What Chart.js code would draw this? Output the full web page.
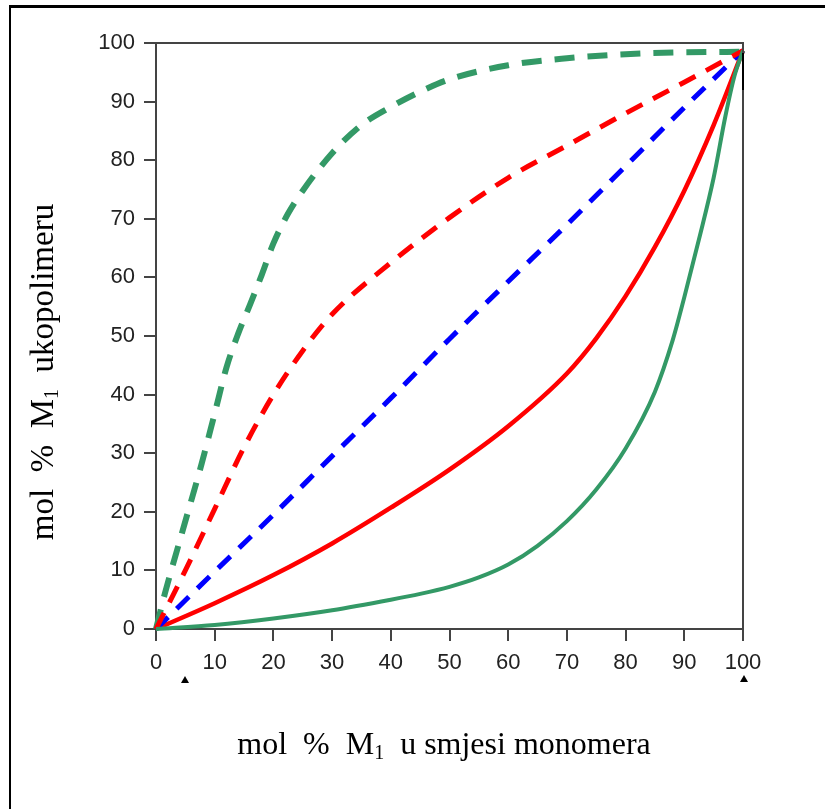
<!DOCTYPE html>
<html>
<head>
<meta charset="utf-8">
<script src="https://cdn.jsdelivr.net/npm/chart.js@4.4.1/dist/chart.umd.min.js"></script>
<style>
html, body { margin: 0; padding: 0; background: #fff; }
#wrap { position: relative; width: 825px; height: 809px; }
</style>
</head>
<body>
<div id="wrap"><canvas id="chart" width="825" height="809" style="width:825px;height:809px"></canvas></div>
<script>
// values (mol % M1 in feed -> mol % M1 in copolymer)
const axisTicks = [0, 10, 20, 30, 40, 50, 60, 70, 80, 90, 100];

const greenDashX = [0, 1.5, 4.6, 7.8, 10, 12, 14, 16, 18, 20, 22.5, 25, 30, 35, 40, 45, 50, 60, 70, 80, 90, 100];
const greenDashY = [0, 6, 17, 28.3, 36.8, 44.6, 50.4, 55.3, 60.4, 65.8, 70.9, 74.8, 81.2, 86, 89.1, 91.7, 93.8, 96.2, 97.4, 98.1, 98.4, 98.5];

const redDashX = [0, 5, 10, 15, 20, 25, 30, 40, 50, 60, 70, 80, 90, 100];
const redDashY = [0, 10, 20.5, 31, 40, 47.5, 53.7, 62.5, 70.2, 77, 82.5, 88, 93.3, 98.7];

const blueDashX = [0, 10, 20, 30, 40, 50, 60, 70, 80, 90, 100];
const blueDashY = [0, 9.8, 19.5, 29.5, 39.4, 49.5, 59.3, 69, 79, 89, 98.7];

const redSolidX = [0, 10, 20, 30, 40, 50, 60, 70, 75, 80, 85, 90, 95, 100];
const redSolidY = [0, 4.4, 9.2, 14.6, 20.7, 27.2, 34.6, 43.6, 49.6, 56.8, 65.2, 74.8, 86, 98.7];

const greenSolidX = [0, 10, 20, 30, 40, 45, 50, 55, 60, 65, 70, 75, 80, 85, 88, 90, 92.5, 95, 97, 98.5, 100];
const greenSolidY = [0, 0.7, 1.8, 3.2, 5.0, 6.0, 7.2, 8.8, 11.0, 14.2, 18.4, 23.8, 30.8, 40.5, 49.2, 56.6, 66.5, 77, 87.5, 94.2, 98.7];

const GREEN = '#339966';
const RED = '#ff0000';
const BLUE = '#0000ff';
const AXIS = '#444444';

function pts(xs, ys) {
    return xs.map((x, i) => ({ x: x, y: ys[i] }));
}

function line(data, color, width, dash, order) {
    return {
        data: data,
        borderColor: color,
        backgroundColor: color,
        borderWidth: width,
        borderDash: dash,
        borderCapStyle: 'butt',
        pointRadius: 0,
        cubicInterpolationMode: 'monotone',
        fill: false,
        clip: 6,
        order: order
    };
}

// draw text with a subscript part
function drawParts(ctx, parts, x, y, size) {
    const subSize = Math.round(size * 0.62);
    let total = 0;
    parts.forEach(p => {
        ctx.font = (p.sub ? subSize : size) + 'px "Liberation Serif", "Times New Roman", serif';
        p.w = ctx.measureText(p.t).width;
        total += p.w;
    });
    let cx = x - total / 2;
    parts.forEach(p => {
        ctx.font = (p.sub ? subSize : size) + 'px "Liberation Serif", "Times New Roman", serif';
        ctx.fillText(p.t, cx, p.sub ? y + size * 0.16 : y);
        cx += p.w;
    });
}

const framePlugin = {
    id: 'frame',
    beforeDraw(chart) {
        const ctx = chart.ctx;
        ctx.save();
        ctx.fillStyle = '#fff';
        ctx.fillRect(0, 0, chart.width, chart.height);
        // outer page frame (left + top only)
        ctx.fillStyle = '#000';
        ctx.fillRect(9, 5, chart.width - 9, 3);
        ctx.fillRect(9, 5, 2, chart.height - 5);
        ctx.restore();
    },
    afterDatasetsDraw(chart) {
        const ctx = chart.ctx;
        const a = chart.chartArea;
        ctx.save();
        ctx.strokeStyle = AXIS;
        ctx.lineWidth = 2;
        ctx.beginPath();
        ctx.moveTo(a.left, a.top);
        ctx.lineTo(a.right, a.top);
        ctx.lineTo(a.right, a.bottom);
        ctx.stroke();
        // darker stub on the right edge near the top
        ctx.fillStyle = '#000';
        ctx.fillRect(a.right - 1, a.top + 10, 2, 37);
        // small marker triangles below the axis
        [[185, 676], [744, 675]].forEach(t => {
            ctx.beginPath();
            ctx.moveTo(t[0], t[1]);
            ctx.lineTo(t[0] - 4, t[1] + 7);
            ctx.lineTo(t[0] + 4, t[1] + 7);
            ctx.closePath();
            ctx.fill();
        });
        ctx.restore();
    },
    afterDraw(chart) {
        const ctx = chart.ctx;
        ctx.save();
        ctx.fillStyle = '#000';
        ctx.textBaseline = 'alphabetic';
        ctx.textAlign = 'left';
        drawParts(ctx, [
            { t: 'mol  %  M' }, { t: '1', sub: true }, { t: '  u smjesi monomera' }
        ], 444, 754, 32);
        ctx.translate(53, 372);
        ctx.rotate(-Math.PI / 2);
        drawParts(ctx, [
            { t: 'mol  %  M' }, { t: '1', sub: true }, { t: '  ukopolimeru' }
        ], 0, 0, 33);
        ctx.restore();
    }
};

const tickFont = { family: '"Liberation Sans", Arial, sans-serif', size: 22 };

const ctx = document.getElementById('chart').getContext('2d');
new Chart(ctx, {
    type: 'line',
    data: {
        datasets: [
            line(pts(greenDashX, greenDashY), GREEN, 6, [20, 13], 5),
            line(pts(redDashX, redDashY), RED, 5, [18, 12], 2),
            line(pts(blueDashX, blueDashY), BLUE, 5, [17, 12], 3),
            line(pts(redSolidX, redSolidY), RED, 4.5, [], 4),
            line(pts(greenSolidX, greenSolidY), GREEN, 4, [], 1)
        ]
    },
    options: {
        responsive: false,
        animation: false,
        events: [],
        layout: { padding: { left: 0, top: 43, right: 82, bottom: 120 } },
        plugins: { legend: { display: false }, tooltip: { enabled: false } },
        scales: {
            x: {
                type: 'linear',
                min: 0,
                max: 100,
                afterFit: s => { s.height = 60; },
                afterBuildTicks: s => { s.ticks = axisTicks.map(v => ({ value: v })); },
                ticks: { color: '#222', font: tickFont, padding: 9, maxRotation: 0, autoSkip: false },
                grid: { drawOnChartArea: false, drawTicks: true, tickLength: 12, color: AXIS, lineWidth: 2 },
                border: { display: true, color: AXIS, width: 2 }
            },
            y: {
                type: 'linear',
                min: 0,
                max: 100,
                afterFit: s => { s.width = 156; },
                afterBuildTicks: s => { s.ticks = axisTicks.map(v => ({ value: v })); },
                ticks: { color: '#222', font: tickFont, padding: 9, autoSkip: false },
                grid: { drawOnChartArea: false, drawTicks: true, tickLength: 12, color: AXIS, lineWidth: 2 },
                border: { display: true, color: AXIS, width: 2 }
            }
        }
    },
    plugins: [framePlugin]
});
</script>
</body>
</html>
